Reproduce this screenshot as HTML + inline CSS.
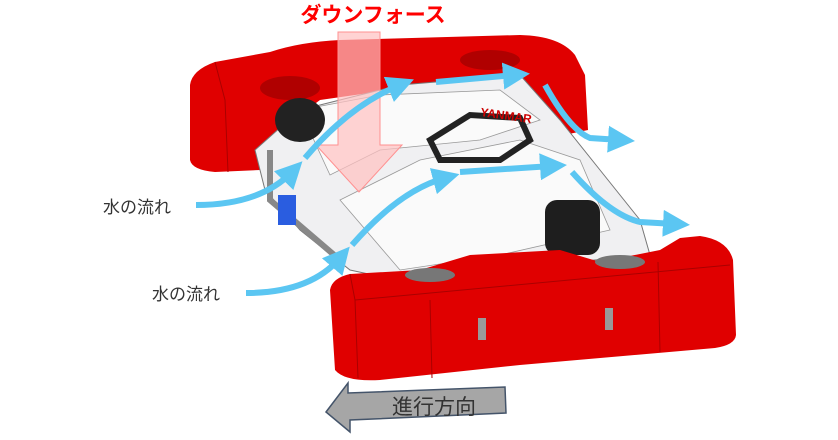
<!DOCTYPE html>
<html><head><meta charset="utf-8"><style>
html,body{margin:0;padding:0;background:#fff;width:838px;height:440px;overflow:hidden}
svg{display:block}
text{font-family:"Liberation Sans","Noto Sans CJK JP",sans-serif}
</style></head><body>
<svg width="838" height="440" viewBox="0 0 838 440" xmlns="http://www.w3.org/2000/svg">
<defs>
<marker id="ah" markerWidth="4.5" markerHeight="4.5" refX="2" refY="2.25" orient="auto" markerUnits="strokeWidth">
<path d="M0,0 L4.5,2.25 L0,4.5 Z" fill="#5bc6f2"/></marker>
</defs>
<path d="M190,85 Q192,70 215,62 L270,52 Q300,42 340,40 L520,35 Q560,36 575,55 L585,75 L588,130 L540,140 L520,110 L460,80 L320,100 L280,130 L260,170 L215,172 Q192,170 190,160 Z" fill="#e00000"/>
<path d="M215,62 L225,100 L228,172" stroke="#a00" stroke-width="1" fill="none"/>
<ellipse cx="290" cy="88" rx="30" ry="12" fill="#b00000"/>
<ellipse cx="490" cy="60" rx="30" ry="10" fill="#b00000"/>
<path d="M255,150 L300,110 L400,85 L520,75 L560,120 L600,170 L640,220 L650,255 L540,265 L420,285 L350,270 L300,230 L265,190 Z" fill="#f0f0f2" stroke="#777" stroke-width="1"/>
<path d="M340,200 L420,160 L520,140 L580,160 L610,230 L500,255 L400,270 Z" fill="#fafafa" stroke="#999" stroke-width="0.8"/>
<path d="M300,110 L380,95 L500,90 L540,120 L480,140 L380,150 L330,175 Z" fill="#fafafa" stroke="#999" stroke-width="0.8"/>
<ellipse cx="300" cy="120" rx="25" ry="22" fill="#222"/>
<rect x="545" y="200" width="55" height="55" rx="12" fill="#1e1e1e"/>
<path d="M430,140 L470,115 L520,118 L530,140 L500,160 L440,160 Z" fill="none" stroke="#222" stroke-width="6"/>
<path d="M270,150 L270,200 L340,260" stroke="#888" stroke-width="6" fill="none"/>
<rect x="278" y="195" width="18" height="30" fill="#2a5de0"/>
<text x="480" y="116" font-size="12" font-weight="bold" fill="#c00" transform="rotate(8 480 116)">YANMAR</text>
<path d="M330,290 Q332,278 350,274 L420,270 L470,255 L560,250 L600,262 L660,250 L680,238 L700,236 Q728,240 733,260 L736,335 Q735,345 715,348 L520,365 L380,380 Q345,382 335,370 Z" fill="#e00000"/>
<path d="M350,274 L355,300 L358,378 M430,300 L432,378 M658,262 L660,352 M355,300 L730,265" stroke="#a00" stroke-width="1" fill="none"/>
<rect x="478" y="318" width="8" height="22" fill="#999"/>
<rect x="605" y="308" width="8" height="22" fill="#999"/>
<ellipse cx="430" cy="275" rx="25" ry="7" fill="#777"/>
<ellipse cx="620" cy="262" rx="25" ry="7" fill="#777"/>
<path d="M338,32 L380,32 L380,145 L402,145 L359,192 L316,145 L338,145 Z" fill="#ffc0c0" fill-opacity="0.7" stroke="#ff9090" stroke-width="1"/>
<text x="373" y="22" font-size="21" font-weight="bold" fill="#ff0000" text-anchor="middle">ダウンフォース</text>
<g stroke="#5bc6f2" stroke-width="6" fill="none" stroke-linecap="butt">
<path d="M196,205 Q260,205 292,172" marker-end="url(#ah)"/>
<path d="M305,158 Q350,105 400,85" marker-end="url(#ah)"/>
<path d="M436,82 L515,75" marker-end="url(#ah)"/>
<path d="M545,85 Q570,130 590,138 L620,140" marker-end="url(#ah)"/>
<path d="M246,293 Q310,293 340,258" marker-end="url(#ah)"/>
<path d="M352,245 Q400,190 445,178" marker-end="url(#ah)"/>
<path d="M460,172 L552,166" marker-end="url(#ah)"/>
<path d="M572,172 Q610,215 640,222 L675,224" marker-end="url(#ah)"/>
</g>
<text x="103" y="213" font-size="17" fill="#333">水の流れ</text>
<text x="152" y="300" font-size="17" fill="#333">水の流れ</text>
<path d="M326,412 L348,383 L348,393 L505,387 L506,413 L350,420 L350,432 Z" fill="#a6a6a6" stroke="#44546a" stroke-width="1.5"/>
<text x="434" y="414" font-size="21" fill="#333" text-anchor="middle">進行方向</text>
</svg>
</body></html>
